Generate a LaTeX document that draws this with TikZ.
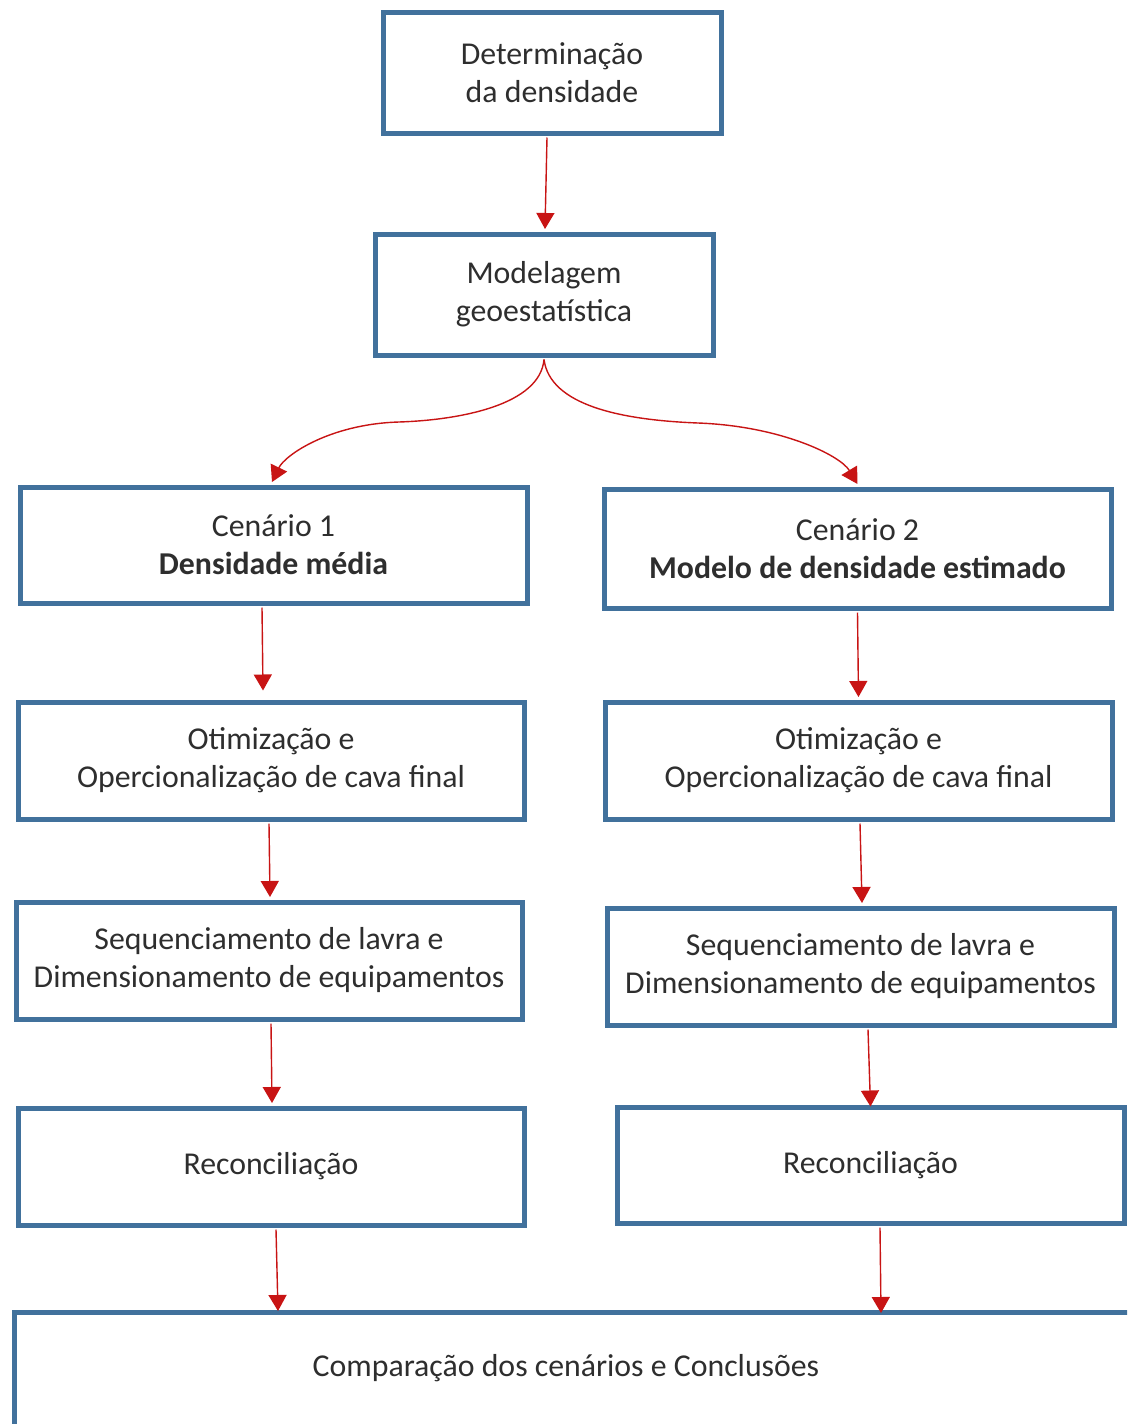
\documentclass[tikz,border=0pt]{standalone}
\usepackage{fontspec}
\setmainfont{Carlito}
\usetikzlibrary{arrows.meta}
\definecolor{boxblue}{RGB}{65,113,156}
\definecolor{arrred}{RGB}{200,20,20}
\tikzset{
  flowbox/.style={draw=boxblue, line width=5pt, rectangle, fill=white, align=center,
    inner sep=0pt, text=black!82, font=\fontsize{31.8}{38}\selectfont},
  flowarrow/.style={draw=arrred, line width=1.4pt, -{Triangle[length=16pt,width=18pt]}},
  lbl/.style={align=center, inner sep=0pt, text=black!82, font=\fontsize{31.8}{38}\selectfont}
}
\begin{document}
\begin{tikzpicture}[x=1pt,y=-1pt]
\useasboundingbox (0,0) rectangle (1127,1424);
\clip (0,0) rectangle (1127,1424);
\fill[white] (0,0) rectangle (1127,1424);

% boxes
\node[flowbox, minimum width=338pt, minimum height=121pt] (d) at (552,72.5) {Determinação\\da densidade};
\node[flowbox, minimum width=338pt, minimum height=121pt] (m) at (544,294.5) {Modelagem\\geoestatística};
\node[flowbox, minimum width=507pt, minimum height=116pt] (c1) at (273.5,545) {Cenário 1\\\textbf{Densidade média}};
\node[flowbox, minimum width=507pt, minimum height=119pt] (c2) at (857.5,548.5) {Cenário 2\\\textbf{Modelo de densidade estimado}};
\node[flowbox, minimum width=506pt, minimum height=117pt] (o1) at (271,760.5) {Otimização e\\Opercionalização de cava final};
\node[flowbox, minimum width=507pt, minimum height=117pt] (o2) at (858.5,760.5) {Otimização e\\Opercionalização de cava final};
\node[flowbox, minimum width=506pt, minimum height=117pt] (s1) at (269,960.5) {Sequenciamento de lavra e\\Dimensionamento de equipamentos};
\node[flowbox, minimum width=507pt, minimum height=117pt] (s2) at (860.5,966.5) {Sequenciamento de lavra e\\Dimensionamento de equipamentos};
\node[flowbox, minimum width=506pt, minimum height=117pt] (r1) at (271,1166.5) {Reconciliação};
\node[flowbox, minimum width=507pt, minimum height=116pt] (r2) at (870.5,1165) {Reconciliação};
\node[flowbox, minimum width=1140pt, minimum height=130pt, anchor=north west] (b) at (12,1310) {};
\node[lbl] (bt) at (566,1368) {Comparação dos cenários e Conclusões};

% curve waypoints
\coordinate (wl) at (399,422);
\coordinate (wr) at (698,423);

% connectors
\draw[flowarrow] ([xshift=-5pt,yshift=-2pt]d.south) -- ([xshift=1pt,yshift=2.5pt]m.north);
\draw[flowarrow] ([yshift=-2pt]m.south) .. controls (540,405) and (460,420) .. (wl)
  .. controls (330,424) and (285,455) .. ([xshift=-1.5pt,yshift=2.5pt]c1.north);
\draw[flowarrow] ([yshift=-2pt]m.south) .. controls (550,405) and (620,420) .. (wr)
  .. controls (780,426) and (840,455) .. ([yshift=2.5pt]c2.north);
\draw[flowarrow] ([xshift=-11.5pt,yshift=-2pt]c1.south) -- ([xshift=-8pt,yshift=9pt]o1.north);
\draw[flowarrow] ([yshift=-2pt]c2.south) -- ([yshift=2.5pt]o2.north);
\draw[flowarrow] ([xshift=-2pt,yshift=-2pt]o1.south) -- ([xshift=1pt,yshift=2.5pt]s1.north);
\draw[flowarrow] ([xshift=1.5pt,yshift=-2pt]o2.south) -- ([xshift=1.5pt,yshift=2.5pt]s2.north);
\draw[flowarrow] ([xshift=2pt,yshift=-2pt]s1.south) -- ([xshift=1pt,yshift=2.5pt]r1.north);
\draw[flowarrow] ([xshift=7.5pt,yshift=-2pt]s2.south) -- ([yshift=-2pt]r2.north);
\draw[flowarrow] ([xshift=5pt,yshift=-2pt]r1.south) -- ([xshift=266pt,yshift=-1pt]b.north west);
\draw[flowarrow] ([xshift=9.5pt,yshift=-2pt]r2.south) -- ([xshift=869pt,yshift=-3pt]b.north west);
\end{tikzpicture}
\end{document}
